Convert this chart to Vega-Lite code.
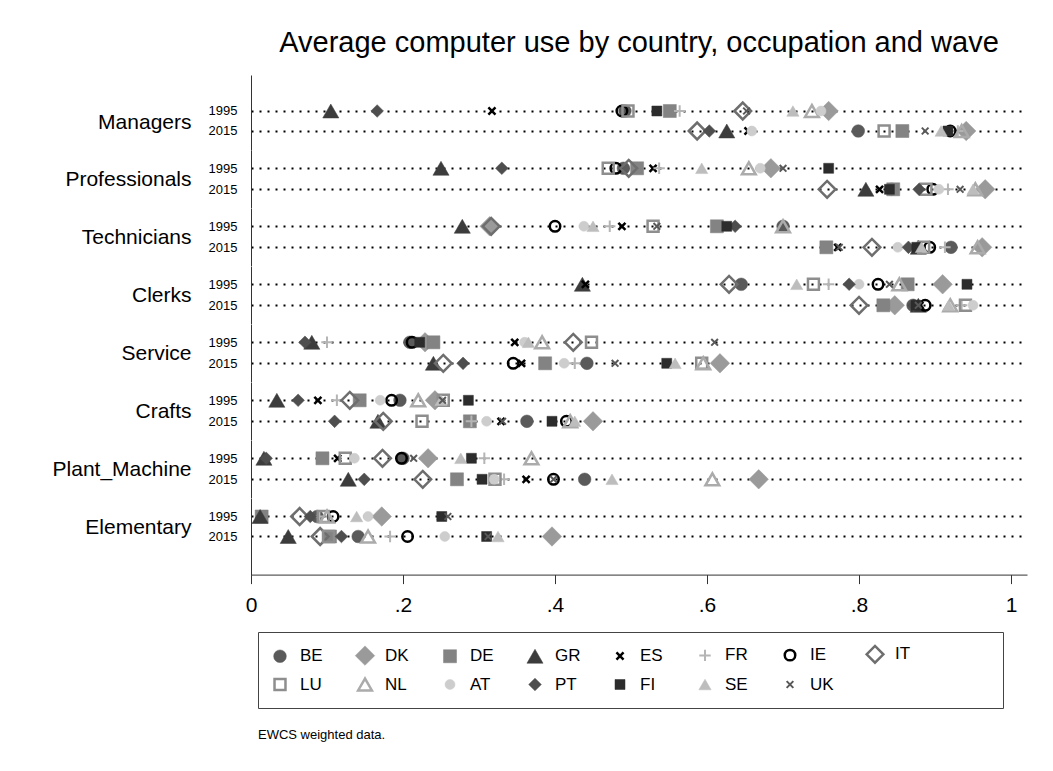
{
  "$schema": "https://vega.github.io/schema/vega-lite/v6.json",
  "background": "white",
  "autosize": {"type": "pad"},
  "padding": {"left": 52, "top": 29, "right": 10, "bottom": 10},
  "bounds": "flush",
  "spacing": 0,
  "title": {"text": "EWCS weighted data.", "orient": "bottom", "anchor": "start", "frame": "group", "fontSize": 13, "fontWeight": "normal", "color": "#000", "offset": 20, "dx": 7},
  "data": {"values": [
    {"o":"Managers","yr":"1995","c":"BE","v":0.492},{"o":"Managers","yr":"1995","c":"DK","v":0.760},{"o":"Managers","yr":"1995","c":"DE","v":0.551},{"o":"Managers","yr":"1995","c":"GR","v":0.105},{"o":"Managers","yr":"1995","c":"ES","v":0.317},{"o":"Managers","yr":"1995","c":"FR","v":0.564},{"o":"Managers","yr":"1995","c":"IE","v":0.488},{"o":"Managers","yr":"1995","c":"IT","v":0.647},{"o":"Managers","yr":"1995","c":"LU","v":0.496},{"o":"Managers","yr":"1995","c":"NL","v":0.738},{"o":"Managers","yr":"1995","c":"AT","v":0.750},{"o":"Managers","yr":"1995","c":"PT","v":0.166},{"o":"Managers","yr":"1995","c":"FI","v":0.534},{"o":"Managers","yr":"1995","c":"SE","v":0.713},{"o":"Managers","yr":"1995","c":"UK","v":0.652},
    {"o":"Managers","yr":"2015","c":"BE","v":0.799},{"o":"Managers","yr":"2015","c":"DK","v":0.941},{"o":"Managers","yr":"2015","c":"DE","v":0.857},{"o":"Managers","yr":"2015","c":"GR","v":0.626},{"o":"Managers","yr":"2015","c":"ES","v":0.654},{"o":"Managers","yr":"2015","c":"FR","v":0.930},{"o":"Managers","yr":"2015","c":"IE","v":0.920},{"o":"Managers","yr":"2015","c":"IT","v":0.587},{"o":"Managers","yr":"2015","c":"LU","v":0.833},{"o":"Managers","yr":"2015","c":"NL","v":0.935},{"o":"Managers","yr":"2015","c":"AT","v":0.659},{"o":"Managers","yr":"2015","c":"PT","v":0.603},{"o":"Managers","yr":"2015","c":"FI","v":0.917},{"o":"Managers","yr":"2015","c":"SE","v":0.908},{"o":"Managers","yr":"2015","c":"UK","v":0.887},
    {"o":"Professionals","yr":"1995","c":"BE","v":0.490},{"o":"Professionals","yr":"1995","c":"DK","v":0.684},{"o":"Professionals","yr":"1995","c":"DE","v":0.508},{"o":"Professionals","yr":"1995","c":"GR","v":0.250},{"o":"Professionals","yr":"1995","c":"ES","v":0.529},{"o":"Professionals","yr":"1995","c":"FR","v":0.537},{"o":"Professionals","yr":"1995","c":"IE","v":0.480},{"o":"Professionals","yr":"1995","c":"IT","v":0.497},{"o":"Professionals","yr":"1995","c":"LU","v":0.470},{"o":"Professionals","yr":"1995","c":"NL","v":0.655},{"o":"Professionals","yr":"1995","c":"AT","v":0.670},{"o":"Professionals","yr":"1995","c":"PT","v":0.330},{"o":"Professionals","yr":"1995","c":"FI","v":0.760},{"o":"Professionals","yr":"1995","c":"SE","v":0.593},{"o":"Professionals","yr":"1995","c":"UK","v":0.700},
    {"o":"Professionals","yr":"2015","c":"BE","v":0.843},{"o":"Professionals","yr":"2015","c":"DK","v":0.966},{"o":"Professionals","yr":"2015","c":"DE","v":0.845},{"o":"Professionals","yr":"2015","c":"GR","v":0.809},{"o":"Professionals","yr":"2015","c":"ES","v":0.827},{"o":"Professionals","yr":"2015","c":"FR","v":0.917},{"o":"Professionals","yr":"2015","c":"IE","v":0.897},{"o":"Professionals","yr":"2015","c":"IT","v":0.758},{"o":"Professionals","yr":"2015","c":"LU","v":0.888},{"o":"Professionals","yr":"2015","c":"NL","v":0.953},{"o":"Professionals","yr":"2015","c":"AT","v":0.905},{"o":"Professionals","yr":"2015","c":"PT","v":0.879},{"o":"Professionals","yr":"2015","c":"FI","v":0.840},{"o":"Professionals","yr":"2015","c":"SE","v":0.950},{"o":"Professionals","yr":"2015","c":"UK","v":0.933},
    {"o":"Technicians","yr":"1995","c":"BE","v":0.700},{"o":"Technicians","yr":"1995","c":"DK","v":0.314},{"o":"Technicians","yr":"1995","c":"DE","v":0.613},{"o":"Technicians","yr":"1995","c":"GR","v":0.278},{"o":"Technicians","yr":"1995","c":"ES","v":0.488},{"o":"Technicians","yr":"1995","c":"FR","v":0.472},{"o":"Technicians","yr":"1995","c":"IE","v":0.400},{"o":"Technicians","yr":"1995","c":"IT","v":0.316},{"o":"Technicians","yr":"1995","c":"LU","v":0.529},{"o":"Technicians","yr":"1995","c":"NL","v":0.700},{"o":"Technicians","yr":"1995","c":"AT","v":0.438},{"o":"Technicians","yr":"1995","c":"PT","v":0.637},{"o":"Technicians","yr":"1995","c":"FI","v":0.626},{"o":"Technicians","yr":"1995","c":"SE","v":0.450},{"o":"Technicians","yr":"1995","c":"UK","v":0.534},
    {"o":"Technicians","yr":"2015","c":"BE","v":0.921},{"o":"Technicians","yr":"2015","c":"DK","v":0.962},{"o":"Technicians","yr":"2015","c":"DE","v":0.757},{"o":"Technicians","yr":"2015","c":"GR","v":0.878},{"o":"Technicians","yr":"2015","c":"ES","v":0.772},{"o":"Technicians","yr":"2015","c":"FR","v":0.913},{"o":"Technicians","yr":"2015","c":"IE","v":0.893},{"o":"Technicians","yr":"2015","c":"IT","v":0.817},{"o":"Technicians","yr":"2015","c":"LU","v":0.885},{"o":"Technicians","yr":"2015","c":"NL","v":0.956},{"o":"Technicians","yr":"2015","c":"AT","v":0.851},{"o":"Technicians","yr":"2015","c":"PT","v":0.865},{"o":"Technicians","yr":"2015","c":"FI","v":0.876},{"o":"Technicians","yr":"2015","c":"SE","v":0.882},{"o":"Technicians","yr":"2015","c":"UK","v":0.774},
    {"o":"Clerks","yr":"1995","c":"BE","v":0.645},{"o":"Clerks","yr":"1995","c":"DK","v":0.910},{"o":"Clerks","yr":"1995","c":"DE","v":0.864},{"o":"Clerks","yr":"1995","c":"GR","v":0.436},{"o":"Clerks","yr":"1995","c":"ES","v":0.440},{"o":"Clerks","yr":"1995","c":"FR","v":0.760},{"o":"Clerks","yr":"1995","c":"IE","v":0.825},{"o":"Clerks","yr":"1995","c":"IT","v":0.629},{"o":"Clerks","yr":"1995","c":"LU","v":0.740},{"o":"Clerks","yr":"1995","c":"NL","v":0.853},{"o":"Clerks","yr":"1995","c":"AT","v":0.800},{"o":"Clerks","yr":"1995","c":"PT","v":0.787},{"o":"Clerks","yr":"1995","c":"FI","v":0.942},{"o":"Clerks","yr":"1995","c":"SE","v":0.718},{"o":"Clerks","yr":"1995","c":"UK","v":0.840},
    {"o":"Clerks","yr":"2015","c":"BE","v":0.871},{"o":"Clerks","yr":"2015","c":"DK","v":0.847},{"o":"Clerks","yr":"2015","c":"DE","v":0.832},{"o":"Clerks","yr":"2015","c":"GR","v":0.878},{"o":"Clerks","yr":"2015","c":"ES","v":0.880},{"o":"Clerks","yr":"2015","c":"FR","v":0.935},{"o":"Clerks","yr":"2015","c":"IE","v":0.887},{"o":"Clerks","yr":"2015","c":"IT","v":0.800},{"o":"Clerks","yr":"2015","c":"LU","v":0.940},{"o":"Clerks","yr":"2015","c":"NL","v":0.920},{"o":"Clerks","yr":"2015","c":"AT","v":0.950},{"o":"Clerks","yr":"2015","c":"PT","v":0.872},{"o":"Clerks","yr":"2015","c":"FI","v":0.875},{"o":"Clerks","yr":"2015","c":"SE","v":0.918},{"o":"Clerks","yr":"2015","c":"UK","v":0.878},
    {"o":"Service","yr":"1995","c":"BE","v":0.209},{"o":"Service","yr":"1995","c":"DK","v":0.229},{"o":"Service","yr":"1995","c":"DE","v":0.240},{"o":"Service","yr":"1995","c":"GR","v":0.080},{"o":"Service","yr":"1995","c":"ES","v":0.347},{"o":"Service","yr":"1995","c":"FR","v":0.100},{"o":"Service","yr":"1995","c":"IE","v":0.212},{"o":"Service","yr":"1995","c":"IT","v":0.424},{"o":"Service","yr":"1995","c":"LU","v":0.448},{"o":"Service","yr":"1995","c":"NL","v":0.383},{"o":"Service","yr":"1995","c":"AT","v":0.360},{"o":"Service","yr":"1995","c":"PT","v":0.071},{"o":"Service","yr":"1995","c":"FI","v":0.222},{"o":"Service","yr":"1995","c":"SE","v":0.365},{"o":"Service","yr":"1995","c":"UK","v":0.610},
    {"o":"Service","yr":"2015","c":"BE","v":0.442},{"o":"Service","yr":"2015","c":"DK","v":0.617},{"o":"Service","yr":"2015","c":"DE","v":0.387},{"o":"Service","yr":"2015","c":"GR","v":0.240},{"o":"Service","yr":"2015","c":"ES","v":0.356},{"o":"Service","yr":"2015","c":"FR","v":0.426},{"o":"Service","yr":"2015","c":"IE","v":0.345},{"o":"Service","yr":"2015","c":"IT","v":0.253},{"o":"Service","yr":"2015","c":"LU","v":0.593},{"o":"Service","yr":"2015","c":"NL","v":0.595},{"o":"Service","yr":"2015","c":"AT","v":0.412},{"o":"Service","yr":"2015","c":"PT","v":0.279},{"o":"Service","yr":"2015","c":"FI","v":0.547},{"o":"Service","yr":"2015","c":"SE","v":0.558},{"o":"Service","yr":"2015","c":"UK","v":0.479},
    {"o":"Crafts","yr":"1995","c":"BE","v":0.196},{"o":"Crafts","yr":"1995","c":"DK","v":0.242},{"o":"Crafts","yr":"1995","c":"DE","v":0.143},{"o":"Crafts","yr":"1995","c":"GR","v":0.034},{"o":"Crafts","yr":"1995","c":"ES","v":0.088},{"o":"Crafts","yr":"1995","c":"FR","v":0.113},{"o":"Crafts","yr":"1995","c":"IE","v":0.185},{"o":"Crafts","yr":"1995","c":"IT","v":0.130},{"o":"Crafts","yr":"1995","c":"LU","v":0.253},{"o":"Crafts","yr":"1995","c":"NL","v":0.220},{"o":"Crafts","yr":"1995","c":"AT","v":0.170},{"o":"Crafts","yr":"1995","c":"PT","v":0.062},{"o":"Crafts","yr":"1995","c":"FI","v":0.286},{"o":"Crafts","yr":"1995","c":"SE","v":0.250},{"o":"Crafts","yr":"1995","c":"UK","v":0.252},
    {"o":"Crafts","yr":"2015","c":"BE","v":0.363},{"o":"Crafts","yr":"2015","c":"DK","v":0.450},{"o":"Crafts","yr":"2015","c":"DE","v":0.288},{"o":"Crafts","yr":"2015","c":"GR","v":0.167},{"o":"Crafts","yr":"2015","c":"ES","v":0.329},{"o":"Crafts","yr":"2015","c":"FR","v":0.290},{"o":"Crafts","yr":"2015","c":"IE","v":0.415},{"o":"Crafts","yr":"2015","c":"IT","v":0.174},{"o":"Crafts","yr":"2015","c":"LU","v":0.225},{"o":"Crafts","yr":"2015","c":"NL","v":0.420},{"o":"Crafts","yr":"2015","c":"AT","v":0.310},{"o":"Crafts","yr":"2015","c":"PT","v":0.110},{"o":"Crafts","yr":"2015","c":"FI","v":0.396},{"o":"Crafts","yr":"2015","c":"SE","v":0.426},{"o":"Crafts","yr":"2015","c":"UK","v":0.331},
    {"o":"Plant_Machine","yr":"1995","c":"BE","v":0.200},{"o":"Plant_Machine","yr":"1995","c":"DK","v":0.233},{"o":"Plant_Machine","yr":"1995","c":"DE","v":0.094},{"o":"Plant_Machine","yr":"1995","c":"GR","v":0.017},{"o":"Plant_Machine","yr":"1995","c":"ES","v":0.114},{"o":"Plant_Machine","yr":"1995","c":"FR","v":0.307},{"o":"Plant_Machine","yr":"1995","c":"IE","v":0.198},{"o":"Plant_Machine","yr":"1995","c":"IT","v":0.173},{"o":"Plant_Machine","yr":"1995","c":"LU","v":0.124},{"o":"Plant_Machine","yr":"1995","c":"NL","v":0.369},{"o":"Plant_Machine","yr":"1995","c":"AT","v":0.136},{"o":"Plant_Machine","yr":"1995","c":"PT","v":0.020},{"o":"Plant_Machine","yr":"1995","c":"FI","v":0.290},{"o":"Plant_Machine","yr":"1995","c":"SE","v":0.276},{"o":"Plant_Machine","yr":"1995","c":"UK","v":0.214},
    {"o":"Plant_Machine","yr":"2015","c":"BE","v":0.439},{"o":"Plant_Machine","yr":"2015","c":"DK","v":0.668},{"o":"Plant_Machine","yr":"2015","c":"DE","v":0.271},{"o":"Plant_Machine","yr":"2015","c":"GR","v":0.128},{"o":"Plant_Machine","yr":"2015","c":"ES","v":0.362},{"o":"Plant_Machine","yr":"2015","c":"FR","v":0.333},{"o":"Plant_Machine","yr":"2015","c":"IE","v":0.398},{"o":"Plant_Machine","yr":"2015","c":"IT","v":0.226},{"o":"Plant_Machine","yr":"2015","c":"LU","v":0.321},{"o":"Plant_Machine","yr":"2015","c":"NL","v":0.607},{"o":"Plant_Machine","yr":"2015","c":"AT","v":0.320},{"o":"Plant_Machine","yr":"2015","c":"PT","v":0.149},{"o":"Plant_Machine","yr":"2015","c":"FI","v":0.304},{"o":"Plant_Machine","yr":"2015","c":"SE","v":0.475},{"o":"Plant_Machine","yr":"2015","c":"UK","v":0.398},
    {"o":"Elementary","yr":"1995","c":"BE","v":0.087},{"o":"Elementary","yr":"1995","c":"DK","v":0.172},{"o":"Elementary","yr":"1995","c":"DE","v":0.014},{"o":"Elementary","yr":"1995","c":"GR","v":0.012},{"o":"Elementary","yr":"1995","c":"ES","v":0.250},{"o":"Elementary","yr":"1995","c":"FR","v":0.090},{"o":"Elementary","yr":"1995","c":"IE","v":0.108},{"o":"Elementary","yr":"1995","c":"IT","v":0.064},{"o":"Elementary","yr":"1995","c":"LU","v":0.095},{"o":"Elementary","yr":"1995","c":"NL","v":0.100},{"o":"Elementary","yr":"1995","c":"AT","v":0.154},{"o":"Elementary","yr":"1995","c":"PT","v":0.078},{"o":"Elementary","yr":"1995","c":"FI","v":0.251},{"o":"Elementary","yr":"1995","c":"SE","v":0.139},{"o":"Elementary","yr":"1995","c":"UK","v":0.259},
    {"o":"Elementary","yr":"2015","c":"BE","v":0.141},{"o":"Elementary","yr":"2015","c":"DK","v":0.396},{"o":"Elementary","yr":"2015","c":"DE","v":0.104},{"o":"Elementary","yr":"2015","c":"GR","v":0.049},{"o":"Elementary","yr":"2015","c":"ES","v":0.310},{"o":"Elementary","yr":"2015","c":"FR","v":0.183},{"o":"Elementary","yr":"2015","c":"IE","v":0.206},{"o":"Elementary","yr":"2015","c":"IT","v":0.091},{"o":"Elementary","yr":"2015","c":"LU","v":0.102},{"o":"Elementary","yr":"2015","c":"NL","v":0.154},{"o":"Elementary","yr":"2015","c":"AT","v":0.255},{"o":"Elementary","yr":"2015","c":"PT","v":0.119},{"o":"Elementary","yr":"2015","c":"FI","v":0.310},{"o":"Elementary","yr":"2015","c":"SE","v":0.325},{"o":"Elementary","yr":"2015","c":"UK","v":0.312}
  ]},
  "resolve": {"scale": {"y": "independent", "x": "shared"}},
  "vconcat": [
    {"width": 776, "height": 75,
     "title": {"text": "Average computer use by country, occupation and wave", "anchor": "middle", "frame": "group", "fontSize": 29, "fontWeight": "normal", "color": "#000", "offset": 17},
     "transform": [{"filter": "datum.o == 'Managers'"}],
     "mark": {"type": "point", "opacity": 1},
     "encoding": {
       "x": {"field": "v", "type": "quantitative", "scale": {"domain": [0, 1.021], "nice": false, "zero": false}, "axis": null},
       "y": {"field": "yr", "type": "nominal", "scale": {"type": "band", "domain": ["1995", "2015"], "paddingInner": 0.25, "paddingOuter": 1, "align": 0.7125}, "axis": {"title": "Managers", "titleY": 47, "bandPosition": 0.5}},
       "shape": {"field": "c", "type": "nominal", "scale": {"domain": ["BE","DK","DE","GR","ES","FR","IE","IT","LU","NL","AT","PT","FI","SE","UK"], "range": ["circle","diamond","square","triangle-up","M-1,-1L1,1M-1,1L1,-1","M-1,0L1,0M0,-1L0,1","circle","diamond","square","triangle-up","circle","diamond","square","triangle-up","M-1,-1L1,1M-1,1L1,-1"]}, "legend": {"title": "\u00a0"}},
       "fill": {"field": "c", "type": "nominal", "scale": {"domain": ["BE","DK","DE","GR","ES","FR","IE","IT","LU","NL","AT","PT","FI","SE","UK"], "range": ["#5a5a5a","#9a9a9a","#838383","#3c3c3c","transparent","transparent","transparent","transparent","transparent","transparent","#cdcdcd","#4e4e4e","#2c2c2c","#bdbdbd","transparent"]}, "legend": {"title": "\u00a0"}},
       "stroke": {"field": "c", "type": "nominal", "scale": {"domain": ["BE","DK","DE","GR","ES","FR","IE","IT","LU","NL","AT","PT","FI","SE","UK"], "range": ["#5a5a5a","#9a9a9a","#838383","#3c3c3c","#000000","#b5b5b5","#000000","#6e6e6e","#8e8e8e","#ababab","#cdcdcd","#4e4e4e","#2c2c2c","#bdbdbd","#585858"]}, "legend": {"title": "\u00a0"}},
       "size": {"field": "c", "type": "nominal", "scale": {"type": "ordinal", "domain": ["BE","DK","DE","GR","ES","FR","IE","IT","LU","NL","AT","PT","FI","SE","UK"], "range": [160,380,170,260,50,130,110,280,120,190,100,160,100,150,45]}, "legend": {"title": "\u00a0"}},
       "strokeWidth": {"field": "c", "type": "nominal", "scale": {"type": "ordinal", "domain": ["BE","DK","DE","GR","ES","FR","IE","IT","LU","NL","AT","PT","FI","SE","UK"], "range": [0.5,0.5,0.5,0.5,2.5,2,2.5,2.5,2.5,2.5,0.5,0.5,0.5,0.5,2]}, "legend": {"title": "\u00a0"}}
     }},
    {"width": 776, "height": 57.6,
     "transform": [{"filter": "datum.o == 'Professionals'"}],
     "mark": {"type": "point", "opacity": 1},
     "encoding": {
       "x": {"field": "v", "type": "quantitative", "scale": {"domain": [0, 1.021], "nice": false, "zero": false}, "axis": null},
       "y": {"field": "yr", "type": "nominal", "scale": {"type": "point", "domain": ["1995", "2015"], "padding": 0.871, "align": 0.5}, "axis": {"title": "Professionals", "titleY": 29}},
       "shape": {"field": "c", "type": "nominal", "scale": {"domain": ["BE","DK","DE","GR","ES","FR","IE","IT","LU","NL","AT","PT","FI","SE","UK"], "range": ["circle","diamond","square","triangle-up","M-1,-1L1,1M-1,1L1,-1","M-1,0L1,0M0,-1L0,1","circle","diamond","square","triangle-up","circle","diamond","square","triangle-up","M-1,-1L1,1M-1,1L1,-1"]}, "legend": {"title": "\u00a0"}},
       "fill": {"field": "c", "type": "nominal", "scale": {"domain": ["BE","DK","DE","GR","ES","FR","IE","IT","LU","NL","AT","PT","FI","SE","UK"], "range": ["#5a5a5a","#9a9a9a","#838383","#3c3c3c","transparent","transparent","transparent","transparent","transparent","transparent","#cdcdcd","#4e4e4e","#2c2c2c","#bdbdbd","transparent"]}, "legend": {"title": "\u00a0"}},
       "stroke": {"field": "c", "type": "nominal", "scale": {"domain": ["BE","DK","DE","GR","ES","FR","IE","IT","LU","NL","AT","PT","FI","SE","UK"], "range": ["#5a5a5a","#9a9a9a","#838383","#3c3c3c","#000000","#b5b5b5","#000000","#6e6e6e","#8e8e8e","#ababab","#cdcdcd","#4e4e4e","#2c2c2c","#bdbdbd","#585858"]}, "legend": {"title": "\u00a0"}},
       "size": {"field": "c", "type": "nominal", "scale": {"type": "ordinal", "domain": ["BE","DK","DE","GR","ES","FR","IE","IT","LU","NL","AT","PT","FI","SE","UK"], "range": [160,380,170,260,50,130,110,280,120,190,100,160,100,150,45]}, "legend": {"title": "\u00a0"}},
       "strokeWidth": {"field": "c", "type": "nominal", "scale": {"type": "ordinal", "domain": ["BE","DK","DE","GR","ES","FR","IE","IT","LU","NL","AT","PT","FI","SE","UK"], "range": [0.5,0.5,0.5,0.5,2.5,2,2.5,2.5,2.5,2.5,0.5,0.5,0.5,0.5,2]}, "legend": {"title": "\u00a0"}}
     }},
    {"width": 776, "height": 57.6,
     "transform": [{"filter": "datum.o == 'Technicians'"}],
     "mark": {"type": "point", "opacity": 1},
     "encoding": {
       "x": {"field": "v", "type": "quantitative", "scale": {"domain": [0, 1.021], "nice": false, "zero": false}, "axis": null},
       "y": {"field": "yr", "type": "nominal", "scale": {"type": "point", "domain": ["1995", "2015"], "padding": 0.871, "align": 0.5}, "axis": {"title": "Technicians", "titleY": 29}},
       "shape": {"field": "c", "type": "nominal", "scale": {"domain": ["BE","DK","DE","GR","ES","FR","IE","IT","LU","NL","AT","PT","FI","SE","UK"], "range": ["circle","diamond","square","triangle-up","M-1,-1L1,1M-1,1L1,-1","M-1,0L1,0M0,-1L0,1","circle","diamond","square","triangle-up","circle","diamond","square","triangle-up","M-1,-1L1,1M-1,1L1,-1"]}, "legend": {"title": "\u00a0"}},
       "fill": {"field": "c", "type": "nominal", "scale": {"domain": ["BE","DK","DE","GR","ES","FR","IE","IT","LU","NL","AT","PT","FI","SE","UK"], "range": ["#5a5a5a","#9a9a9a","#838383","#3c3c3c","transparent","transparent","transparent","transparent","transparent","transparent","#cdcdcd","#4e4e4e","#2c2c2c","#bdbdbd","transparent"]}, "legend": {"title": "\u00a0"}},
       "stroke": {"field": "c", "type": "nominal", "scale": {"domain": ["BE","DK","DE","GR","ES","FR","IE","IT","LU","NL","AT","PT","FI","SE","UK"], "range": ["#5a5a5a","#9a9a9a","#838383","#3c3c3c","#000000","#b5b5b5","#000000","#6e6e6e","#8e8e8e","#ababab","#cdcdcd","#4e4e4e","#2c2c2c","#bdbdbd","#585858"]}, "legend": {"title": "\u00a0"}},
       "size": {"field": "c", "type": "nominal", "scale": {"type": "ordinal", "domain": ["BE","DK","DE","GR","ES","FR","IE","IT","LU","NL","AT","PT","FI","SE","UK"], "range": [160,380,170,260,50,130,110,280,120,190,100,160,100,150,45]}, "legend": {"title": "\u00a0"}},
       "strokeWidth": {"field": "c", "type": "nominal", "scale": {"type": "ordinal", "domain": ["BE","DK","DE","GR","ES","FR","IE","IT","LU","NL","AT","PT","FI","SE","UK"], "range": [0.5,0.5,0.5,0.5,2.5,2,2.5,2.5,2.5,2.5,0.5,0.5,0.5,0.5,2]}, "legend": {"title": "\u00a0"}}
     }},
    {"width": 776, "height": 57.6,
     "transform": [{"filter": "datum.o == 'Clerks'"}],
     "mark": {"type": "point", "opacity": 1},
     "encoding": {
       "x": {"field": "v", "type": "quantitative", "scale": {"domain": [0, 1.021], "nice": false, "zero": false}, "axis": null},
       "y": {"field": "yr", "type": "nominal", "scale": {"type": "point", "domain": ["1995", "2015"], "padding": 0.871, "align": 0.5}, "axis": {"title": "Clerks", "titleY": 29}},
       "shape": {"field": "c", "type": "nominal", "scale": {"domain": ["BE","DK","DE","GR","ES","FR","IE","IT","LU","NL","AT","PT","FI","SE","UK"], "range": ["circle","diamond","square","triangle-up","M-1,-1L1,1M-1,1L1,-1","M-1,0L1,0M0,-1L0,1","circle","diamond","square","triangle-up","circle","diamond","square","triangle-up","M-1,-1L1,1M-1,1L1,-1"]}, "legend": {"title": "\u00a0"}},
       "fill": {"field": "c", "type": "nominal", "scale": {"domain": ["BE","DK","DE","GR","ES","FR","IE","IT","LU","NL","AT","PT","FI","SE","UK"], "range": ["#5a5a5a","#9a9a9a","#838383","#3c3c3c","transparent","transparent","transparent","transparent","transparent","transparent","#cdcdcd","#4e4e4e","#2c2c2c","#bdbdbd","transparent"]}, "legend": {"title": "\u00a0"}},
       "stroke": {"field": "c", "type": "nominal", "scale": {"domain": ["BE","DK","DE","GR","ES","FR","IE","IT","LU","NL","AT","PT","FI","SE","UK"], "range": ["#5a5a5a","#9a9a9a","#838383","#3c3c3c","#000000","#b5b5b5","#000000","#6e6e6e","#8e8e8e","#ababab","#cdcdcd","#4e4e4e","#2c2c2c","#bdbdbd","#585858"]}, "legend": {"title": "\u00a0"}},
       "size": {"field": "c", "type": "nominal", "scale": {"type": "ordinal", "domain": ["BE","DK","DE","GR","ES","FR","IE","IT","LU","NL","AT","PT","FI","SE","UK"], "range": [160,380,170,260,50,130,110,280,120,190,100,160,100,150,45]}, "legend": {"title": "\u00a0"}},
       "strokeWidth": {"field": "c", "type": "nominal", "scale": {"type": "ordinal", "domain": ["BE","DK","DE","GR","ES","FR","IE","IT","LU","NL","AT","PT","FI","SE","UK"], "range": [0.5,0.5,0.5,0.5,2.5,2,2.5,2.5,2.5,2.5,0.5,0.5,0.5,0.5,2]}, "legend": {"title": "\u00a0"}}
     }},
    {"width": 776, "height": 57.6,
     "transform": [{"filter": "datum.o == 'Service'"}],
     "mark": {"type": "point", "opacity": 1},
     "encoding": {
       "x": {"field": "v", "type": "quantitative", "scale": {"domain": [0, 1.021], "nice": false, "zero": false}, "axis": null},
       "y": {"field": "yr", "type": "nominal", "scale": {"type": "point", "domain": ["1995", "2015"], "padding": 0.871, "align": 0.5}, "axis": {"title": "Service", "titleY": 29}},
       "shape": {"field": "c", "type": "nominal", "scale": {"domain": ["BE","DK","DE","GR","ES","FR","IE","IT","LU","NL","AT","PT","FI","SE","UK"], "range": ["circle","diamond","square","triangle-up","M-1,-1L1,1M-1,1L1,-1","M-1,0L1,0M0,-1L0,1","circle","diamond","square","triangle-up","circle","diamond","square","triangle-up","M-1,-1L1,1M-1,1L1,-1"]}, "legend": {"title": "\u00a0"}},
       "fill": {"field": "c", "type": "nominal", "scale": {"domain": ["BE","DK","DE","GR","ES","FR","IE","IT","LU","NL","AT","PT","FI","SE","UK"], "range": ["#5a5a5a","#9a9a9a","#838383","#3c3c3c","transparent","transparent","transparent","transparent","transparent","transparent","#cdcdcd","#4e4e4e","#2c2c2c","#bdbdbd","transparent"]}, "legend": {"title": "\u00a0"}},
       "stroke": {"field": "c", "type": "nominal", "scale": {"domain": ["BE","DK","DE","GR","ES","FR","IE","IT","LU","NL","AT","PT","FI","SE","UK"], "range": ["#5a5a5a","#9a9a9a","#838383","#3c3c3c","#000000","#b5b5b5","#000000","#6e6e6e","#8e8e8e","#ababab","#cdcdcd","#4e4e4e","#2c2c2c","#bdbdbd","#585858"]}, "legend": {"title": "\u00a0"}},
       "size": {"field": "c", "type": "nominal", "scale": {"type": "ordinal", "domain": ["BE","DK","DE","GR","ES","FR","IE","IT","LU","NL","AT","PT","FI","SE","UK"], "range": [160,380,170,260,50,130,110,280,120,190,100,160,100,150,45]}, "legend": {"title": "\u00a0"}},
       "strokeWidth": {"field": "c", "type": "nominal", "scale": {"type": "ordinal", "domain": ["BE","DK","DE","GR","ES","FR","IE","IT","LU","NL","AT","PT","FI","SE","UK"], "range": [0.5,0.5,0.5,0.5,2.5,2,2.5,2.5,2.5,2.5,0.5,0.5,0.5,0.5,2]}, "legend": {"title": "\u00a0"}}
     }},
    {"width": 776, "height": 57.6,
     "transform": [{"filter": "datum.o == 'Crafts'"}],
     "mark": {"type": "point", "opacity": 1},
     "encoding": {
       "x": {"field": "v", "type": "quantitative", "scale": {"domain": [0, 1.021], "nice": false, "zero": false}, "axis": null},
       "y": {"field": "yr", "type": "nominal", "scale": {"type": "point", "domain": ["1995", "2015"], "padding": 0.871, "align": 0.5}, "axis": {"title": "Crafts", "titleY": 29}},
       "shape": {"field": "c", "type": "nominal", "scale": {"domain": ["BE","DK","DE","GR","ES","FR","IE","IT","LU","NL","AT","PT","FI","SE","UK"], "range": ["circle","diamond","square","triangle-up","M-1,-1L1,1M-1,1L1,-1","M-1,0L1,0M0,-1L0,1","circle","diamond","square","triangle-up","circle","diamond","square","triangle-up","M-1,-1L1,1M-1,1L1,-1"]}, "legend": {"title": "\u00a0"}},
       "fill": {"field": "c", "type": "nominal", "scale": {"domain": ["BE","DK","DE","GR","ES","FR","IE","IT","LU","NL","AT","PT","FI","SE","UK"], "range": ["#5a5a5a","#9a9a9a","#838383","#3c3c3c","transparent","transparent","transparent","transparent","transparent","transparent","#cdcdcd","#4e4e4e","#2c2c2c","#bdbdbd","transparent"]}, "legend": {"title": "\u00a0"}},
       "stroke": {"field": "c", "type": "nominal", "scale": {"domain": ["BE","DK","DE","GR","ES","FR","IE","IT","LU","NL","AT","PT","FI","SE","UK"], "range": ["#5a5a5a","#9a9a9a","#838383","#3c3c3c","#000000","#b5b5b5","#000000","#6e6e6e","#8e8e8e","#ababab","#cdcdcd","#4e4e4e","#2c2c2c","#bdbdbd","#585858"]}, "legend": {"title": "\u00a0"}},
       "size": {"field": "c", "type": "nominal", "scale": {"type": "ordinal", "domain": ["BE","DK","DE","GR","ES","FR","IE","IT","LU","NL","AT","PT","FI","SE","UK"], "range": [160,380,170,260,50,130,110,280,120,190,100,160,100,150,45]}, "legend": {"title": "\u00a0"}},
       "strokeWidth": {"field": "c", "type": "nominal", "scale": {"type": "ordinal", "domain": ["BE","DK","DE","GR","ES","FR","IE","IT","LU","NL","AT","PT","FI","SE","UK"], "range": [0.5,0.5,0.5,0.5,2.5,2,2.5,2.5,2.5,2.5,0.5,0.5,0.5,0.5,2]}, "legend": {"title": "\u00a0"}}
     }},
    {"width": 776, "height": 57.6,
     "transform": [{"filter": "datum.o == 'Plant_Machine'"}],
     "mark": {"type": "point", "opacity": 1},
     "encoding": {
       "x": {"field": "v", "type": "quantitative", "scale": {"domain": [0, 1.021], "nice": false, "zero": false}, "axis": null},
       "y": {"field": "yr", "type": "nominal", "scale": {"type": "point", "domain": ["1995", "2015"], "padding": 0.871, "align": 0.5}, "axis": {"title": "Plant_Machine", "titleY": 29}},
       "shape": {"field": "c", "type": "nominal", "scale": {"domain": ["BE","DK","DE","GR","ES","FR","IE","IT","LU","NL","AT","PT","FI","SE","UK"], "range": ["circle","diamond","square","triangle-up","M-1,-1L1,1M-1,1L1,-1","M-1,0L1,0M0,-1L0,1","circle","diamond","square","triangle-up","circle","diamond","square","triangle-up","M-1,-1L1,1M-1,1L1,-1"]}, "legend": {"title": "\u00a0"}},
       "fill": {"field": "c", "type": "nominal", "scale": {"domain": ["BE","DK","DE","GR","ES","FR","IE","IT","LU","NL","AT","PT","FI","SE","UK"], "range": ["#5a5a5a","#9a9a9a","#838383","#3c3c3c","transparent","transparent","transparent","transparent","transparent","transparent","#cdcdcd","#4e4e4e","#2c2c2c","#bdbdbd","transparent"]}, "legend": {"title": "\u00a0"}},
       "stroke": {"field": "c", "type": "nominal", "scale": {"domain": ["BE","DK","DE","GR","ES","FR","IE","IT","LU","NL","AT","PT","FI","SE","UK"], "range": ["#5a5a5a","#9a9a9a","#838383","#3c3c3c","#000000","#b5b5b5","#000000","#6e6e6e","#8e8e8e","#ababab","#cdcdcd","#4e4e4e","#2c2c2c","#bdbdbd","#585858"]}, "legend": {"title": "\u00a0"}},
       "size": {"field": "c", "type": "nominal", "scale": {"type": "ordinal", "domain": ["BE","DK","DE","GR","ES","FR","IE","IT","LU","NL","AT","PT","FI","SE","UK"], "range": [160,380,170,260,50,130,110,280,120,190,100,160,100,150,45]}, "legend": {"title": "\u00a0"}},
       "strokeWidth": {"field": "c", "type": "nominal", "scale": {"type": "ordinal", "domain": ["BE","DK","DE","GR","ES","FR","IE","IT","LU","NL","AT","PT","FI","SE","UK"], "range": [0.5,0.5,0.5,0.5,2.5,2,2.5,2.5,2.5,2.5,0.5,0.5,0.5,0.5,2]}, "legend": {"title": "\u00a0"}}
     }},
    {"width": 776, "height": 76.6,
     "transform": [{"filter": "datum.o == 'Elementary'"}],
     "mark": {"type": "point", "opacity": 1},
     "encoding": {
       "x": {"field": "v", "type": "quantitative", "scale": {"domain": [0, 1.021], "nice": false, "zero": false},
             "axis": {"values": [0, 0.2, 0.4, 0.6, 0.8, 1], "labelExpr": "datum.value == 0 ? '0' : datum.value == 1 ? '1' : replace(format(datum.value, '.1f'), '0.', '.')", "labelFontSize": 21, "labelColor": "#000", "tickSize": 9, "tickColor": "#333", "domainColor": "#333", "labelPadding": 11, "labelFlush": false, "labelOverlap": false, "title": null, "grid": false}},
       "y": {"field": "yr", "type": "nominal", "scale": {"type": "band", "domain": ["1995", "2015"], "paddingInner": 0.17, "paddingOuter": 1, "align": 0.255}, "axis": {"title": "Elementary", "titleY": 29.5, "bandPosition": 0.5}},
       "shape": {"field": "c", "type": "nominal", "scale": {"domain": ["BE","DK","DE","GR","ES","FR","IE","IT","LU","NL","AT","PT","FI","SE","UK"], "range": ["circle","diamond","square","triangle-up","M-1,-1L1,1M-1,1L1,-1","M-1,0L1,0M0,-1L0,1","circle","diamond","square","triangle-up","circle","diamond","square","triangle-up","M-1,-1L1,1M-1,1L1,-1"]}, "legend": {"title": "\u00a0"}},
       "fill": {"field": "c", "type": "nominal", "scale": {"domain": ["BE","DK","DE","GR","ES","FR","IE","IT","LU","NL","AT","PT","FI","SE","UK"], "range": ["#5a5a5a","#9a9a9a","#838383","#3c3c3c","transparent","transparent","transparent","transparent","transparent","transparent","#cdcdcd","#4e4e4e","#2c2c2c","#bdbdbd","transparent"]}, "legend": {"title": "\u00a0"}},
       "stroke": {"field": "c", "type": "nominal", "scale": {"domain": ["BE","DK","DE","GR","ES","FR","IE","IT","LU","NL","AT","PT","FI","SE","UK"], "range": ["#5a5a5a","#9a9a9a","#838383","#3c3c3c","#000000","#b5b5b5","#000000","#6e6e6e","#8e8e8e","#ababab","#cdcdcd","#4e4e4e","#2c2c2c","#bdbdbd","#585858"]}, "legend": {"title": "\u00a0"}},
       "size": {"field": "c", "type": "nominal", "scale": {"type": "ordinal", "domain": ["BE","DK","DE","GR","ES","FR","IE","IT","LU","NL","AT","PT","FI","SE","UK"], "range": [160,380,170,260,50,130,110,280,120,190,100,160,100,150,45]}, "legend": {"title": "\u00a0"}},
       "strokeWidth": {"field": "c", "type": "nominal", "scale": {"type": "ordinal", "domain": ["BE","DK","DE","GR","ES","FR","IE","IT","LU","NL","AT","PT","FI","SE","UK"], "range": [0.5,0.5,0.5,0.5,2.5,2,2.5,2.5,2.5,2.5,0.5,0.5,0.5,0.5,2]}, "legend": {"title": "\u00a0"}}
     }}
  ],
  "config": {
    "font": "Liberation Sans",
    "view": {"stroke": null},
    "axisY": {"grid": true, "gridColor": "#000", "gridDash": [2, 6], "gridWidth": 1.8, "ticks": false, "labelFontSize": 13, "labelColor": "#000", "labelPadding": 14, "domainColor": "#333", "titleAngle": 0, "titleAlign": "right", "titleBaseline": "middle", "titleX": -60, "titleFontSize": 21, "titleFontWeight": "normal", "titleColor": "#000"},
    "legend": {"orient": "none", "legendX": 7, "legendY": 557, "direction": "horizontal", "columns": 8, "gridAlign": "all", "columnPadding": 25, "rowPadding": 5, "labelFontSize": 17, "labelColor": "#000", "labelOffset": 10, "padding": 12, "strokeColor": "#444", "fillColor": "white", "symbolOpacity": 1, "titleOrient": "right", "titlePadding": 81, "titleFontSize": 17}
  }
}
